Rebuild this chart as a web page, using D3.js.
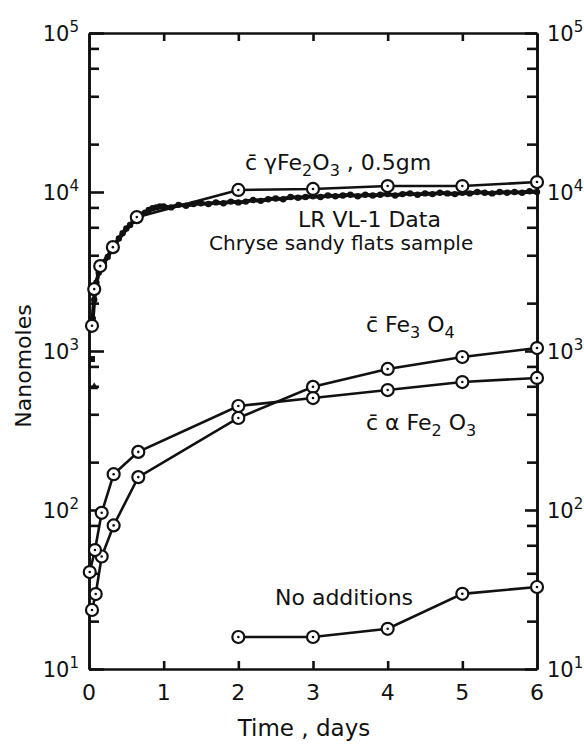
<!DOCTYPE html>
<html>
<head>
<meta charset="utf-8">
<script src="https://cdn.jsdelivr.net/npm/d3@7"></script>
<style>
  body { margin: 0; background: #fff; }
  svg text { font-family: "DejaVu Sans", sans-serif; fill: #111; }
</style>
</head>
<body>
<div class="chart"></div>
<script>
const width = 584;
const height = 744;

// c̄ γFe2O3, 0.5 gm
const gammaDays = [0.04, 0.07, 0.15, 0.32, 0.64, 2, 3, 4, 5, 6];
const gammaValues = [1440, 2450, 3420, 4500, 6950, 10300, 10450, 10900, 10900, 11550];

// c̄ Fe3O4
const fe3o4Days = [0.04, 0.09, 0.17, 0.33, 0.66, 2, 3, 4, 5, 6];
const fe3o4Values = [23.5, 29.6, 51, 80, 161, 379, 595, 771, 917, 1044];

// c̄ α Fe2O3
const alphaDays = [0.01, 0.08, 0.17, 0.33, 0.66, 2, 3, 4, 5, 6];
const alphaValues = [40.7, 56, 96, 168, 232, 451, 506, 568, 638, 677];

// No additions
const noneDays = [2, 3, 4, 5, 6];
const noneValues = [15.9, 15.9, 17.9, 29.7, 32.8];

// LR VL-1 data, Chryse sandy flats sample
const lrDays = [0.05, 0.07, 0.1, 0.13, 0.17, 0.2, 0.25, 0.3, 0.35, 0.4, 0.45, 0.5, 0.55, 0.6, 0.65, 0.7, 0.75, 0.8, 0.85, 0.9, 0.95, 1.0,
  1.1, 1.2, 1.3, 1.4, 1.5, 1.6, 1.7, 1.8, 1.9, 2.0, 2.1, 2.2, 2.3, 2.4, 2.5, 2.6, 2.7, 2.8, 2.9, 3.0,
  3.1, 3.2, 3.3, 3.4, 3.5, 3.6, 3.7, 3.8, 3.9, 4.0, 4.1, 4.2, 4.3, 4.4, 4.5, 4.6, 4.7, 4.8, 4.9, 5.0,
  5.1, 5.2, 5.3, 5.4, 5.5, 5.6, 5.7, 5.8, 5.9, 6.0];
const lrValues = [1600, 2100, 2700, 3100, 3400, 3600, 3900, 4300, 4700, 5100, 5500, 5900, 6200, 6600, 6900, 7200, 7400, 7700, 7900, 8000, 8100, 8100,
  8000, 8300, 8200, 8400, 8500, 8400, 8600, 8500, 8700, 8600, 8700, 8900, 8800, 9000, 9100, 9000, 9300, 9200, 9300, 9400,
  9300, 9500, 9400, 9500, 9600, 9400, 9600, 9500, 9600, 9700, 9500, 9700, 9800, 9600, 9800, 9700, 9900, 9800, 9700, 9900,
  9800, 10000, 9900, 9800, 10000, 9900, 10000, 9900, 10100, 10000];
const lrEarlyDays = [0.04, 0.07];
const lrEarlyValues = [890, 600];

const xTicks = [0, 1, 2, 3, 4, 5, 6];
const decades = [1, 2, 3, 4, 5];
const minorTicks = [1, 2, 3].flatMap(e => [2, 4, 6, 8].map(m => m * 10 ** e)).concat([2e4, 4e4, 6e4, 8e4]);

const svg = d3.select(".chart")
  .append("svg")
  .attr("width", width)
  .attr("height", height);

const x = d3.scaleLinear().domain([0, 6]).range([89, 537]);
const y = d3.scaleLog().domain([10, 1e5]).range([669, 33]);

// axes: four sides, ticks pointing inward
const axisStyle = g => g.call(s => s.selectAll("path, line").attr("stroke", "#111").attr("stroke-width", 2.6))
  .call(s => s.selectAll("text").remove());

svg.append("g").attr("transform", `translate(${x(0)},0)`)
  .call(d3.axisRight(y).tickValues(minorTicks).tickSize(10).tickSizeOuter(0)).call(axisStyle);
svg.append("g").attr("transform", `translate(${x(0)},0)`)
  .call(d3.axisRight(y).tickValues(decades.map(e => 10 ** e)).tickSize(15).tickSizeOuter(0)).call(axisStyle);
svg.append("g").attr("transform", `translate(${x(6)},0)`)
  .call(d3.axisLeft(y).tickValues(minorTicks).tickSize(10).tickSizeOuter(0)).call(axisStyle);
svg.append("g").attr("transform", `translate(${x(6)},0)`)
  .call(d3.axisLeft(y).tickValues(decades.map(e => 10 ** e)).tickSize(12).tickSizeOuter(0)).call(axisStyle);
svg.append("g").attr("transform", `translate(0,${y(1e5)})`)
  .call(d3.axisBottom(x).tickValues([1, 2, 3, 4, 5]).tickSize(8).tickSizeOuter(0)).call(axisStyle);
svg.append("g").attr("transform", `translate(0,${y(10)})`)
  .call(d3.axisTop(x).tickValues([1, 2, 3, 4, 5]).tickSize(8).tickSizeOuter(0)).call(axisStyle);

// decade labels on both sides
function powerLabel(sel, e, anchorX, side) {
  const t = sel.append("text")
    .attr("x", anchorX)
    .attr("y", y(10 ** e) + 8)
    .attr("font-size", 21)
    .attr("text-anchor", side === "left" ? "end" : "start");
  t.append("tspan").text("10");
  t.append("tspan").attr("dy", -9).attr("font-size", 15).text(e);
}
decades.forEach(e => {
  powerLabel(svg, e, 79, "left");
  powerLabel(svg, e, 547, "right");
});

svg.append("g").selectAll("text")
  .data(xTicks)
  .join("text")
  .attr("x", d => x(d))
  .attr("y", 700)
  .attr("text-anchor", "middle")
  .attr("font-size", 22)
  .text(d => d);

svg.append("text")
  .attr("x", 304)
  .attr("y", 736)
  .attr("text-anchor", "middle")
  .attr("font-size", 23)
  .text("Time , days");

svg.append("text")
  .attr("transform", `translate(31,366) rotate(-90)`)
  .attr("text-anchor", "middle")
  .attr("font-size", 22)
  .text("Nanomoles");

// LR data: dense jagged band of dots
const lrPts = lrDays.map((d, i) => [d, lrValues[i]]);
svg.append("path")
  .datum(lrPts)
  .attr("fill", "none")
  .attr("stroke", "#111")
  .attr("stroke-width", 4)
  .attr("d", d3.line().x(d => x(d[0])).y(d => y(d[1])));
svg.append("g").selectAll("circle")
  .data(lrPts)
  .join("circle")
  .attr("cx", d => x(d[0]))
  .attr("cy", d => y(d[1]))
  .attr("r", 3.2)
  .attr("fill", "#111");
svg.append("rect")
  .attr("x", x(lrEarlyDays[0]) - 3).attr("y", y(lrEarlyValues[0]) - 3)
  .attr("width", 6).attr("height", 6).attr("fill", "#111");
svg.append("path")
  .attr("d", `M${x(lrEarlyDays[1]) - 4},${y(lrEarlyValues[1]) + 3}L${x(lrEarlyDays[1]) + 4},${y(lrEarlyValues[1]) + 3}L${x(lrEarlyDays[1])},${y(lrEarlyValues[1]) - 4}Z`)
  .attr("fill", "#111");

// circle-marker series
const series = [
  {days: gammaDays, values: gammaValues},
  {days: fe3o4Days, values: fe3o4Values},
  {days: alphaDays, values: alphaValues},
  {days: noneDays, values: noneValues}
];
const line = d3.line().x(d => x(d[0])).y(d => y(d[1]));

series.forEach(s => {
  const pts = s.days.map((d, i) => [d, s.values[i]]);
  svg.append("path")
    .datum(pts)
    .attr("fill", "none")
    .attr("stroke", "#111")
    .attr("stroke-width", 2.6)
    .attr("d", line);
  const m = svg.append("g").selectAll("g")
    .data(pts)
    .join("g")
    .attr("transform", d => `translate(${x(d[0])},${y(d[1])})`);
  m.append("circle").attr("r", 6).attr("fill", "#fff").attr("stroke", "#111").attr("stroke-width", 2.2);
  m.append("circle").attr("r", 1.3).attr("fill", "#111");
});

// in-plot labels
function chemLabel(xp, yp, parts) {
  const t = svg.append("text").attr("x", xp).attr("y", yp).attr("font-size", 22);
  parts.forEach(p => {
    const ts = t.append("tspan").text(p.t);
    if (p.sub) ts.attr("font-size", 16).attr("dy", 6);
    if (p.up) ts.attr("dy", -6);
  });
}
chemLabel(245, 170, [{t: "c\u0304 \u03b3Fe"}, {t: "2", sub: true}, {t: "O", up: true}, {t: "3", sub: true}, {t: " , 0.5gm", up: true}]);
chemLabel(366, 332, [{t: "c\u0304 Fe"}, {t: "3", sub: true}, {t: " O", up: true}, {t: "4", sub: true}]);
chemLabel(366, 430, [{t: "c\u0304 \u03b1 Fe"}, {t: "2", sub: true}, {t: " O", up: true}, {t: "3", sub: true}]);

svg.append("text").attr("x", 298).attr("y", 227).attr("font-size", 22).text("LR VL-1 Data");
svg.append("text").attr("x", 209).attr("y", 250).attr("font-size", 20).text("Chryse sandy flats sample");
svg.append("text").attr("x", 275).attr("y", 605).attr("font-size", 22).text("No additions");
</script>
</body>
</html>
